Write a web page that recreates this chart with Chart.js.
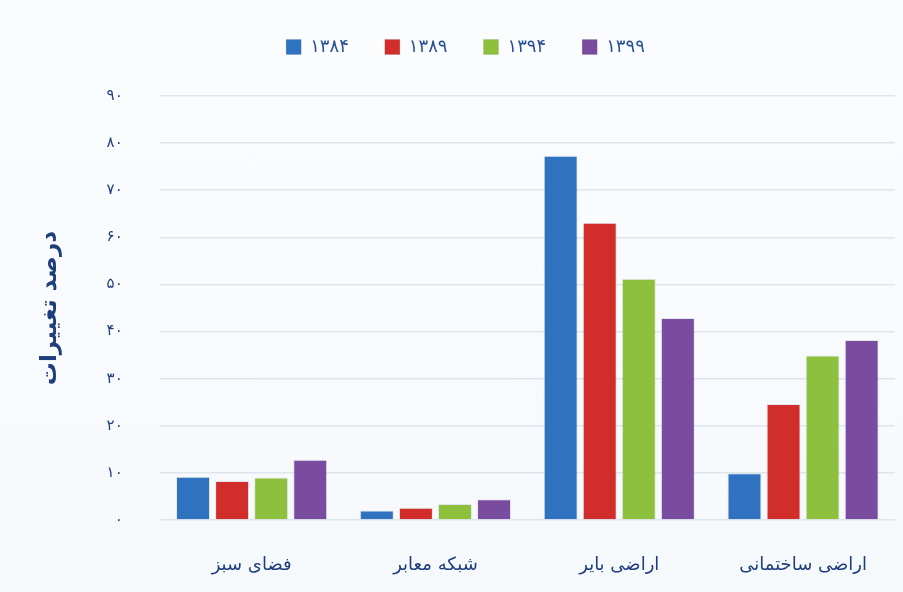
<!DOCTYPE html>
<html>
<head>
<meta charset="utf-8">
<script src="https://cdn.jsdelivr.net/npm/chart.js@4"></script>
<style>
  body{margin:0;background:#fff;}
  #wrap{width:903px;height:592px;background:linear-gradient(#fbfcfe,#f6f9fc);}
</style>
</head>
<body>
<div id="wrap"><canvas id="chart" width="903" height="592"></canvas></div>
<script>
// DATA
const categories=["فضای سبز","شبکه معابر","اراضی بایر","اراضی ساختمانی"];
const years=["۱۳۸۴","۱۳۸۹","۱۳۹۴","۱۳۹۹"];
const v1384=[9.2,2.0,77.3,9.9];
const v1389=[8.3,2.6,63.1,24.6];
const v1394=[9.0,3.4,51.2,34.9];
const v1399=[12.8,4.4,42.9,38.2];
const yTicks=["۰","۱۰","۲۰","۳۰","۴۰","۵۰","۶۰","۷۰","۸۰","۹۰"];
const yTitle="درصد تغییرات";

const colors=["#2f73c0","#d12d2a","#8dc03c","#7a4c9f"];
const navy="#1f3f7c";
const font="'DejaVu Sans', sans-serif";

let series=[v1384,v1389,v1394,v1399];

// extra space under legend
const legendGap={
  id:"legendGap",
  beforeInit(chart){
    const fit=chart.legend.fit;
    chart.legend.fit=function(){
      fit.bind(chart.legend)();
      this.height+=30;
    };
  }
};

let chart=new Chart(document.getElementById("chart").getContext("2d"),{
  type:"bar",
  data:{
    labels:categories,
    datasets:series.map((s,i)=>({
      label:years[i],
      data:s,
      backgroundColor:colors[i],
      borderColor:"rgba(0,0,0,0.08)",
      borderWidth:1,
      barPercentage:0.87,
      categoryPercentage:0.85
    }))
  },
  options:{
    responsive:false,
    animation:false,
    layout:{padding:{left:36,right:8,top:2,bottom:0}},
    plugins:{
      tooltip:{enabled:false},
      legend:{
        position:"top",
        labels:{
          boxWidth:15,boxHeight:15,padding:36,
          color:"#2a4f96",
          font:{family:font,size:18}
        }
      }
    },
    scales:{
      x:{
        grid:{display:false},
        border:{display:false},
        ticks:{color:navy,padding:27,font:{family:font,size:18}},
        afterFit(scale){scale.height=72;}
      },
      y:{
        min:0,max:90,
        grid:{color:"#dfe5ec",lineWidth:1.5,drawTicks:false},
        border:{display:false},
        ticks:{
          stepSize:10,padding:37,color:navy,
          font:{family:font,size:15},
          callback:(v,i)=>yTicks[i]
        },
        title:{
          display:true,text:yTitle,color:navy,
          font:{family:font,size:23,weight:"bold"},
          padding:{top:0,bottom:6}
        }
      }
    }
  },
  plugins:[legendGap]
});
</script>
</body>
</html>
